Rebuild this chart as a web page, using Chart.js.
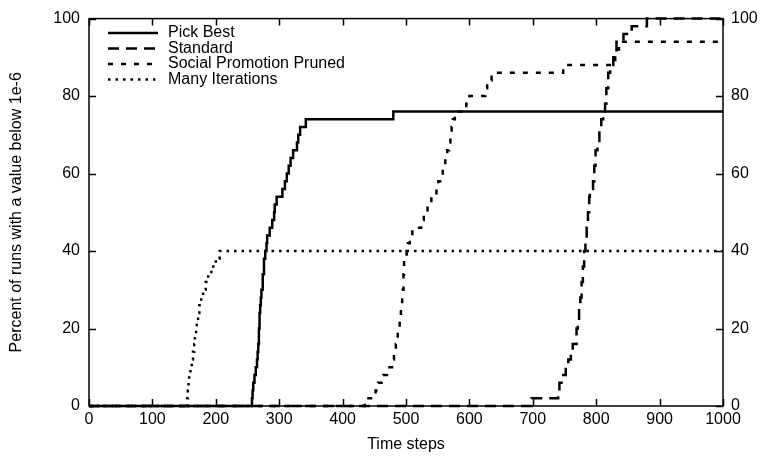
<!DOCTYPE html>
<html>
<head>
<meta charset="utf-8">
<script src="https://cdn.jsdelivr.net/npm/chart.js@4/dist/chart.umd.min.js"></script>
<style>
  html, body { margin: 0; padding: 0; background: #fff; }
</style>
</head>
<body>
<canvas id="chart" width="770" height="459"></canvas>
<script>
// tick values
const xTicks = [0, 100, 200, 300, 400, 500, 600, 700, 800, 900, 1000];
const yTicks = [0, 20, 40, 60, 80, 100];

// each point = time step where the percentage changed to the new value
const pickBestX = [0, 257, 258, 259, 261, 263, 265, 266, 267, 268, 269, 270, 271, 272, 274, 276, 278, 280, 281, 285, 289, 292, 293, 296, 305, 309, 312, 315, 318, 322, 328, 330, 333, 342, 480, 1000];
const pickBestY = [0, 2, 4, 6, 8, 10, 12, 14, 16, 20, 24, 26, 28, 30, 34, 38, 40, 42, 44, 46, 48, 50, 52, 54, 56, 58, 60, 62, 64, 66, 68, 70, 72, 74, 76, 76];

const standardX = [0, 698, 740, 742, 748, 752, 756, 760, 763, 769, 771, 773, 775, 777, 779, 781, 783, 785, 787, 789, 790, 795, 797, 799, 802, 805, 808, 811, 814, 816, 819, 822, 827, 832, 843, 856, 880, 1000];
const standardY = [0, 2, 4, 6, 8, 10, 12, 14, 16, 20, 22, 26, 28, 32, 36, 40, 42, 46, 50, 54, 56, 58, 62, 66, 68, 72, 74, 76, 78, 82, 86, 88, 90, 94, 96, 98, 100, 100];

const socialX = [0, 435, 452, 456, 464, 470, 478, 481, 484, 487, 490, 492, 494, 495, 496, 497, 501, 503, 506, 510, 524, 528, 534, 540, 548, 551, 554, 558, 562, 565, 568, 570, 572, 574, 577, 595, 600, 625, 628, 635, 748, 830, 836, 1000];
const socialY = [0, 2, 4, 6, 8, 10, 12, 14, 16, 20, 22, 26, 28, 30, 34, 38, 40, 42, 44, 46, 48, 50, 52, 54, 56, 58, 60, 62, 64, 66, 68, 70, 72, 74, 76, 78, 80, 82, 84, 86, 88, 92, 94, 94];

const manyX = [0, 155, 156, 157, 158, 160, 162, 164, 166, 167, 169, 170, 172, 174, 177, 180, 184, 188, 193, 200, 206, 1000];
const manyY = [0, 2, 4, 6, 8, 10, 12, 14, 16, 18, 20, 22, 24, 26, 28, 30, 32, 34, 36, 38, 40, 40];

const FONT = '"Liberation Sans", Arial, Helvetica, sans-serif';

function toPoints(xs, ys) {
  return xs.map((x, i) => ({ x: x, y: ys[i] }));
}

function series(label, xs, ys, dash) {
  return {
    label: label,
    data: toPoints(xs, ys),
    borderColor: '#000',
    borderWidth: 2.5,
    borderDash: dash,
    pointRadius: 0,
    stepped: 'before',
    fill: false,
    clip: 4
  };
}

// border box, inward ticks (gnuplot style) and the legend inside the plot
const framePlugin = {
  id: 'frame',
  afterDatasetsDraw(chart) {
    const ctx = chart.ctx;
    const a = chart.chartArea;
    const xs = chart.scales.x;
    const ys = chart.scales.y;
    ctx.save();
    ctx.strokeStyle = '#000';
    ctx.setLineDash([]);
    ctx.lineWidth = 1.5;
    ctx.strokeRect(a.left, a.top, a.right - a.left, a.bottom - a.top);

    const t = 7;
    ctx.beginPath();
    xTicks.forEach(v => {
      const px = Math.round(xs.getPixelForValue(v)) + 0.5;
      ctx.moveTo(px, a.bottom); ctx.lineTo(px, a.bottom - t);
      ctx.moveTo(px, a.top); ctx.lineTo(px, a.top + t);
    });
    yTicks.forEach(v => {
      const py = Math.round(ys.getPixelForValue(v)) + 0.5;
      ctx.moveTo(a.left, py); ctx.lineTo(a.left + t, py);
      ctx.moveTo(a.right, py); ctx.lineTo(a.right - t, py);
    });
    ctx.stroke();

    // legend
    ctx.font = '16px ' + FONT;
    ctx.fillStyle = '#000';
    ctx.textBaseline = 'middle';
    chart.data.datasets.forEach((ds, i) => {
      const y = 33 + i * 15.5;
      ctx.beginPath();
      ctx.lineWidth = ds.borderWidth;
      ctx.setLineDash(ds.borderDash || []);
      ctx.moveTo(108, y);
      ctx.lineTo(158, y);
      ctx.stroke();
      ctx.fillText(ds.label, 168, y);
    });
    ctx.restore();
  }
};

const tickFont = { family: FONT, size: 16 };
const plain = v => String(v);

new Chart(document.getElementById('chart'), {
  type: 'line',
  data: {
    datasets: [
      series('Pick Best', pickBestX, pickBestY, []),
      series('Standard', standardX, standardY, [11, 7]),
      series('Social Promotion Pruned', socialX, socialY, [5, 8]),
      series('Many Iterations', manyX, manyY, [2.5, 5])
    ]
  },
  options: {
    responsive: false,
    animation: false,
    devicePixelRatio: 1,
    layout: { padding: { top: 15, left: 0, right: 0, bottom: 0 } },
    plugins: {
      legend: { display: false },
      tooltip: { enabled: false }
    },
    scales: {
      x: {
        type: 'linear',
        min: 0,
        max: 1000,
        afterFit: s => { s.height = 53; },
        afterBuildTicks: s => { s.ticks = xTicks.map(v => ({ value: v })); },
        ticks: { color: '#000', font: tickFont, padding: 4, maxRotation: 0, callback: plain },
        grid: { display: false, drawTicks: false },
        border: { display: false },
        title: { display: true, text: 'Time steps', color: '#000', font: tickFont, padding: { top: 2, bottom: 5 } }
      },
      y: {
        type: 'linear',
        position: 'left',
        min: 0,
        max: 100,
        afterFit: s => { s.width = 89; },
        afterBuildTicks: s => { s.ticks = yTicks.map(v => ({ value: v })); },
        ticks: { color: '#000', font: tickFont, padding: 9, callback: plain },
        grid: { display: false, drawTicks: false },
        border: { display: false },
        title: { display: true, text: 'Percent of runs with a value below 1e-6', color: '#000', font: tickFont, padding: 7 }
      },
      y2: {
        type: 'linear',
        position: 'right',
        min: 0,
        max: 100,
        afterFit: s => { s.width = 47; },
        afterBuildTicks: s => { s.ticks = yTicks.map(v => ({ value: v })); },
        ticks: { color: '#000', font: tickFont, padding: 8, callback: plain },
        grid: { display: false, drawTicks: false },
        border: { display: false }
      }
    }
  },
  plugins: [framePlugin]
});
</script>
</body>
</html>
